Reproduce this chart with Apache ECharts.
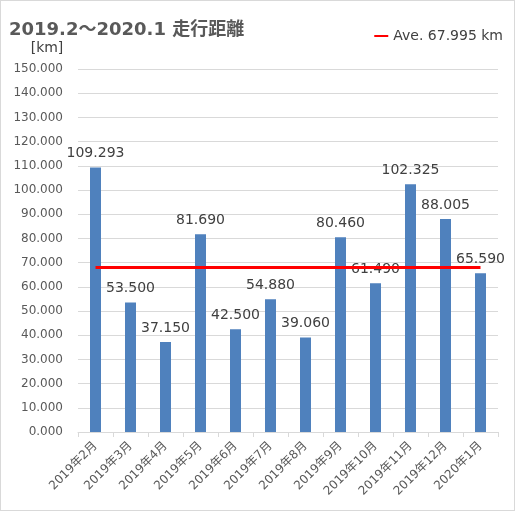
<!DOCTYPE html>
<html>
<head>
<meta charset="utf-8">
<script src="https://cdn.jsdelivr.net/npm/echarts@6/dist/echarts.min.js"></script>
<style>
  html, body { margin: 0; padding: 0; background: #fff; }
  #chart { width: 513px; height: 509px; border: 1px solid #d9d9d9; }
</style>
</head>
<body>
<div id="chart"></div>
<script>
// 月ラベル
const months = ['2019年2月', '2019年3月', '2019年4月', '2019年5月', '2019年6月', '2019年7月',
  '2019年8月', '2019年9月', '2019年10月', '2019年11月', '2019年12月', '2020年1月']
// 走行距離 [km]
const distances = [109.293, 53.5, 37.15, 81.69, 42.5, 54.88, 39.06, 80.46, 61.49, 102.325, 88.005, 65.59]
// 平均値
const average = 67.995
const averageLine = months.map(() => average)

const font = '"DejaVu Sans", "Noto Sans CJK JP", sans-serif'
const chart = echarts.init(document.getElementById('chart'))

chart.setOption({
  animation: false,
  textStyle: { fontFamily: font },
  title: {
    text: '2019.2～2020.1 走行距離',
    left: 3,
    top: 15,
    textStyle: { fontSize: 18, fontWeight: 'bold', color: '#595959', fontFamily: font }
  },
  legend: {
    right: 6,
    top: 23,
    itemWidth: 14,
    itemHeight: 2,
    itemGap: 5,
    icon: 'rect',
    textStyle: { fontSize: 14, color: '#404040', fontFamily: font },
    data: [{ name: 'Ave. 67.995 km', itemStyle: { color: '#ff0000' } }]
  },
  grid: { left: 77, right: 16, top: 68, bottom: 78 },
  xAxis: {
    type: 'category',
    data: months,
    axisLine: { lineStyle: { color: '#d9d9d9' } },
    axisTick: { show: true, length: 5, lineStyle: { color: '#d9d9d9' } },
    axisLabel: { rotate: 45, fontSize: 12, color: '#595959', margin: 12, interval: 0 }
  },
  yAxis: {
    type: 'value',
    name: '[km]',
    nameLocation: 'end',
    nameGap: 14,
    nameTextStyle: { fontSize: 14, color: '#404040', align: 'center', padding: [0, 0, 0, -62] },
    min: 0,
    max: 150,
    interval: 10,
    axisLine: { show: false },
    axisTick: { show: false },
    splitLine: { lineStyle: { color: '#d9d9d9' } },
    axisLabel: {
      fontSize: 12,
      color: '#595959',
      margin: 15,
      formatter: v => v.toFixed(3)
    }
  },
  series: [
    {
      name: '走行距離',
      type: 'bar',
      data: distances,
      barWidth: 11,
      itemStyle: { color: '#4f81bd' },
      label: {
        show: true,
        position: 'top',
        distance: 7,
        fontSize: 14,
        color: '#404040',
        formatter: p => p.value.toFixed(3)
      },
      z: 2
    },
    {
      name: 'Ave. 67.995 km',
      type: 'line',
      data: averageLine,
      symbol: 'none',
      lineStyle: { color: '#ff0000', width: 3 },
      itemStyle: { color: '#ff0000' },
      z: 3
    }
  ]
})
</script>
</body>
</html>
